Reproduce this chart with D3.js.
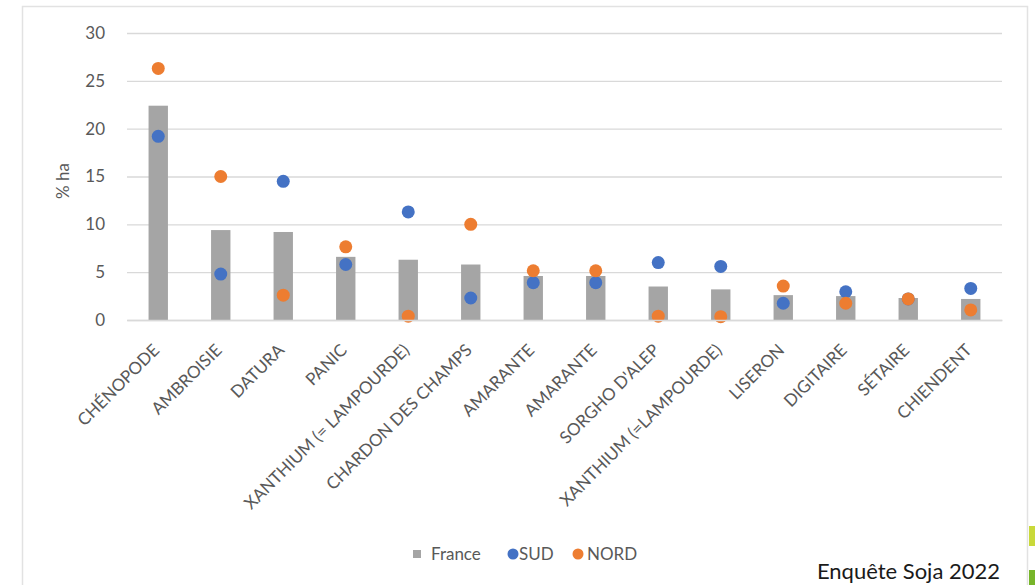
<!DOCTYPE html>
<html>
<head>
<meta charset="utf-8">
<script src="https://cdn.jsdelivr.net/npm/d3@7"></script>
<style>
  body { margin: 0; background: #fff; }
  text { font-family: Lato, "Open Sans", sans-serif; }
</style>
</head>
<body>
<div id="chart"></div>
<script>
// ===== data
var categories = ["CHÉNOPODE", "AMBROISIE", "DATURA", "PANIC", "XANTHIUM (= LAMPOURDE)",
  "CHARDON DES CHAMPS", "AMARANTE", "AMARANTE", "SORGHO D'ALEP", "XANTHIUM (=LAMPOURDE)",
  "LISERON", "DIGITAIRE", "SÉTAIRE", "CHIENDENT"];
var france = [22.4, 9.4, 9.2, 6.6, 6.3, 5.8, 4.6, 4.6, 3.5, 3.2, 2.6, 2.5, 2.3, 2.2];
var sud    = [19.2, 4.8, 14.5, 5.8, 11.3, 2.3, 3.9, 3.9, 6.0, 5.6, 1.75, 2.95, 2.2, 3.3];
var nord   = [26.3, 15.0, 2.6, 7.65, 0.4, 10.0, 5.15, 5.15, 0.4, 0.35, 3.55, 1.75, 2.2, 1.05];
var yTicks = [0, 5, 10, 15, 20, 25, 30];

var svgWidth = 1035, svgHeight = 585;
var margin = { top: 33, right: 33, bottom: 265, left: 127 };
var width = svgWidth - margin.left - margin.right;
var height = svgHeight - margin.top - margin.bottom;

var svg = d3.select("#chart").append("svg")
  .attr("width", svgWidth)
  .attr("height", svgHeight);

// outer frame of the chart area
svg.append("rect")
  .attr("x", 22.5).attr("y", 6.5)
  .attr("width", 1005).attr("height", 600)
  .attr("fill", "none")
  .attr("stroke", "#e2e2e2")
  .attr("stroke-width", 1.5);

// little green marks cut at the right edge
svg.append("rect").attr("x", 1029).attr("y", 526).attr("width", 6).attr("height", 20).attr("fill", "#c9d93a");
svg.append("rect").attr("x", 1029).attr("y", 570).attr("width", 6).attr("height", 15).attr("fill", "#77b52a");

var chartGroup = svg.append("g")
  .attr("transform", `translate(${margin.left}, ${margin.top})`);

// ===== scales
var xBand = d3.scaleBand()
  .domain(d3.range(categories.length))
  .range([0, width])
  .paddingInner(0.69)
  .paddingOuter(0.345);

var yLinear = d3.scaleLinear()
  .domain([0, 30])
  .range([height, 0]);

// ===== grid + y axis
var leftAxis = d3.axisLeft(yLinear)
  .tickValues(yTicks)
  .tickSize(-width)
  .tickPadding(22);

var yAxis = chartGroup.append("g").call(leftAxis);
yAxis.select(".domain").remove();
yAxis.selectAll(".tick line")
  .attr("stroke", "#d9d9d9")
  .attr("stroke-width", 1.3);
yAxis.selectAll(".tick text")
  .attr("fill", "#595959")
  .attr("font-size", "17px");

chartGroup.append("text")
  .attr("transform", "rotate(-90)")
  .attr("x", -148)
  .attr("y", -58)
  .attr("text-anchor", "middle")
  .attr("fill", "#595959")
  .attr("font-size", "17px")
  .text("% ha");

// ===== bars (France)
chartGroup.selectAll(".bar")
  .data(france)
  .enter()
  .append("rect")
  .attr("class", "bar")
  .attr("x", (d, i) => xBand(i))
  .attr("width", xBand.bandwidth())
  .attr("y", d => yLinear(d))
  .attr("height", d => height - yLinear(d))
  .attr("fill", "#a5a5a5");

// ===== dots (SUD then NORD)
var cx = i => xBand(i) + xBand.bandwidth() / 2;

chartGroup.selectAll(".sud")
  .data(sud)
  .enter()
  .append("circle")
  .attr("class", "sud")
  .attr("cx", (d, i) => cx(i))
  .attr("cy", d => yLinear(d))
  .attr("r", 6.5)
  .attr("fill", "#4472c4");

chartGroup.selectAll(".nord")
  .data(nord)
  .enter()
  .append("circle")
  .attr("class", "nord")
  .attr("cx", (d, i) => cx(i))
  .attr("cy", d => yLinear(d))
  .attr("r", 6.5)
  .attr("fill", "#ed7d31");

// ===== x axis labels (rotated)
var bottomAxis = d3.axisBottom(xBand)
  .tickFormat(i => categories[i])
  .tickSize(0)
  .tickPadding(0);

var xAxis = chartGroup.append("g")
  .attr("transform", `translate(0, ${height})`)
  .call(bottomAxis);
xAxis.select(".domain")
  .attr("stroke", "#d9d9d9")
  .attr("stroke-width", 1.3);
xAxis.selectAll(".tick text")
  .attr("fill", "#595959")
  .attr("font-size", "17px")
  .attr("text-anchor", "end")
  .attr("y", 0)
  .attr("dy", "0.35em")
  .attr("transform", "translate(-2, 27) rotate(-45)");

// ===== legend
var legend = svg.append("g")
  .attr("transform", "translate(413, 554)");

legend.append("rect")
  .attr("x", 0).attr("y", -4)
  .attr("width", 8).attr("height", 8)
  .attr("fill", "#a5a5a5");
legend.append("text")
  .attr("x", 18).attr("y", 6)
  .attr("fill", "#595959").attr("font-size", "17px")
  .text("France");

legend.append("circle")
  .attr("cx", 100).attr("cy", 0).attr("r", 5.5)
  .attr("fill", "#4472c4");
legend.append("text")
  .attr("x", 106).attr("y", 6)
  .attr("fill", "#595959").attr("font-size", "17px")
  .text("SUD");

legend.append("circle")
  .attr("cx", 165).attr("cy", 0).attr("r", 5.5)
  .attr("fill", "#ed7d31");
legend.append("text")
  .attr("x", 174).attr("y", 6)
  .attr("fill", "#595959").attr("font-size", "17px")
  .text("NORD");

// ===== source note
svg.append("text")
  .attr("x", 1000)
  .attr("y", 579)
  .attr("text-anchor", "end")
  .attr("fill", "#1a1a1a")
  .attr("font-size", "22px")
  .text("Enquête Soja 2022");
</script>
</body>
</html>
